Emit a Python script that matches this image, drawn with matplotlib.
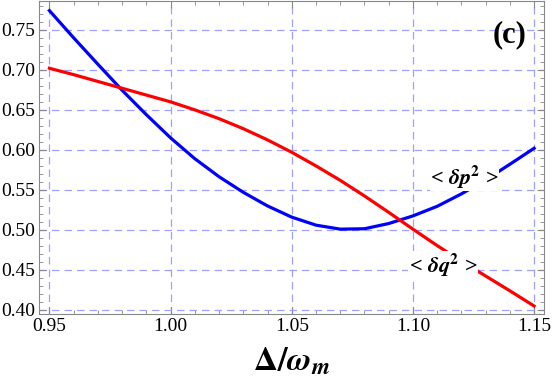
import matplotlib
matplotlib.use('Agg')
import matplotlib.pyplot as plt
from matplotlib.ticker import MultipleLocator, FormatStrFormatter

plt.rcParams['mathtext.fontset'] = 'stix'
plt.rcParams['font.family'] = ['Liberation Serif', 'DejaVu Serif']

detuning = [0.95, 0.96, 0.97, 0.98, 0.99, 1.00, 1.01, 1.02, 1.03, 1.04, 1.05,
            1.06, 1.07, 1.08, 1.09, 1.10, 1.11, 1.12, 1.13, 1.14, 1.15]
dp2 = [0.774, 0.740, 0.707, 0.6745, 0.644, 0.615, 0.589, 0.5665, 0.547, 0.530, 0.516,
       0.506, 0.501, 0.5015, 0.508, 0.5175, 0.5295, 0.545, 0.5625, 0.582, 0.602]
dq2 = [0.702, 0.694, 0.6855, 0.677, 0.6685, 0.660, 0.650, 0.639, 0.6265, 0.6125, 0.597,
       0.580, 0.562, 0.5425, 0.522, 0.501, 0.4805, 0.461, 0.4425, 0.424, 0.405]

fig = plt.figure(figsize=(5.54, 3.83), dpi=100)
ax = fig.add_axes([39/554, 69/383, 505/554, 313/383])

ax.plot(detuning, dp2, color='#0000ff', lw=2.3, zorder=3)
ax.plot(detuning, dq2, color='#ff0000', lw=2.3, zorder=3)

ax.set_xlim(0.9457, 1.1541)
ax.set_ylim(0.395, 0.786)
ax.xaxis.set_major_locator(MultipleLocator(0.05))
ax.xaxis.set_minor_locator(MultipleLocator(0.01))
ax.yaxis.set_major_locator(MultipleLocator(0.05))
ax.yaxis.set_minor_locator(MultipleLocator(0.01))
ax.xaxis.set_major_formatter(FormatStrFormatter('%.2f'))
ax.yaxis.set_major_formatter(FormatStrFormatter('%.2f'))

ax.grid(True, which='major', color='#a0a0ff', ls=(0, (6, 4)), lw=0.9)
ax.tick_params(which='both', direction='in', top=True, right=True, color='#888888',
               labelsize=14, labelcolor='black')
ax.tick_params(which='major', length=5, width=0.8, pad=3)
ax.tick_params(which='minor', length=3, width=0.6)
for s in ax.spines.values():
    s.set_color('#888888')
    s.set_linewidth(0.8)

box = dict(facecolor='white', edgecolor='none', pad=0.5)
ax.text(1.1213, 0.566, r'< $\mathbfit{\delta p}^{\mathbf{2}}$ >', fontsize=16, fontweight='bold',
        ha='center', va='center', bbox=box, zorder=4)
ax.text(1.1126, 0.456, r'< $\mathbfit{\delta q}^{\mathbf{2}}$ >', fontsize=16, fontweight='bold',
        ha='center', va='center', bbox=box, zorder=4)
ax.text(1.1399, 0.744, '(c)', fontsize=22, fontweight='bold', ha='center', va='center')

ax.set_xlabel(r'$\mathbf{\Delta/}\mathbfit{\omega}_{\mathbfit{m}}$', fontsize=24, labelpad=8)

fig.savefig('out.png', dpi=100)
